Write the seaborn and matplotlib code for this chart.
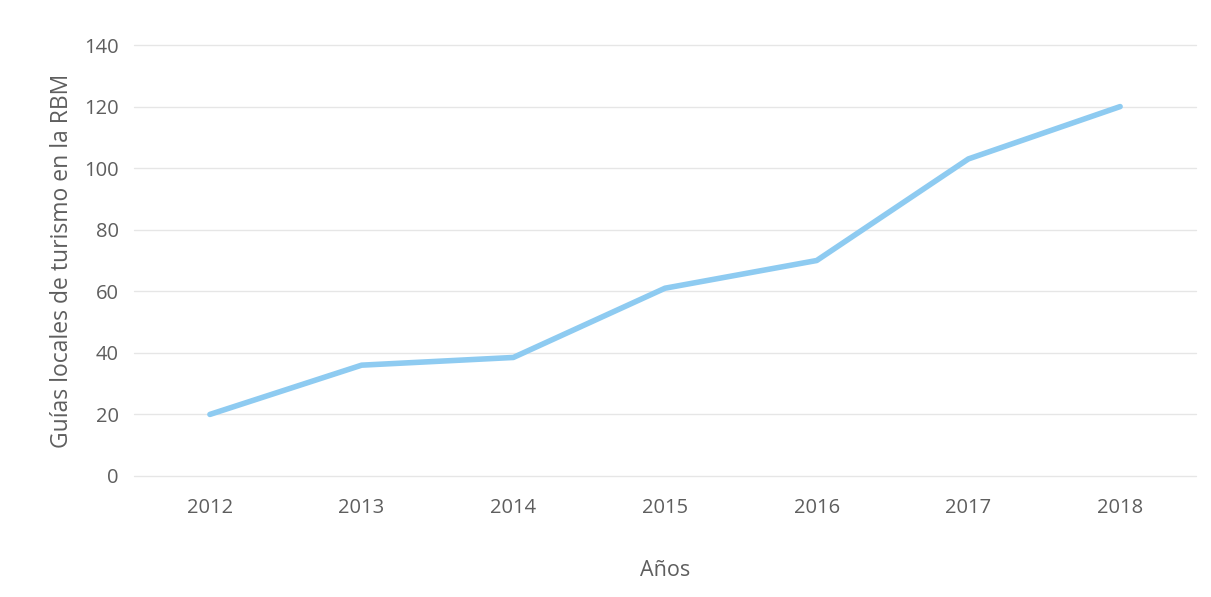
import matplotlib
matplotlib.use("Agg")
import matplotlib.pyplot as plt
import seaborn as sns
import pandas as pd

years = [2012, 2013, 2014, 2015, 2016, 2017, 2018]
guides = [20, 36, 38.5, 61, 70, 103, 120]
y_ticks = [0, 20, 40, 60, 80, 100, 120, 140]

df = pd.DataFrame({"year": years, "guides": guides})

sns.set_theme(style="white")
plt.rcParams["font.family"] = ["Open Sans", "DejaVu Sans"]

fig = plt.figure(figsize=(12.11, 5.97), dpi=100)
ax = fig.add_axes([0.1107, 0.2027, 0.8769, 0.7219])

sns.lineplot(data=df, x="year", y="guides", ax=ax, color="#8ecbf1",
             linewidth=4.0, solid_capstyle="round", solid_joinstyle="round")

ax.set_xlim(2011.5, 2018.5)
ax.set_ylim(0, 140)
ax.set_yticks(y_ticks)
ax.set_xticks(years)
ax.set_xticklabels([str(y) for y in years])
ax.yaxis.grid(True, color="#e6e6e6", linewidth=1.0)
ax.xaxis.grid(False)
for gl in ax.get_ygridlines():
    gl.set_clip_on(False)
for s in ax.spines.values():
    s.set_visible(False)
ax.tick_params(axis="both", length=0, labelsize=14.5, labelcolor="#5e5e5e")
ax.tick_params(axis="x", pad=16)
ax.tick_params(axis="y", pad=11)

ax.set_xlabel("Años", fontsize=15.5, color="#5e5e5e", labelpad=30)
ax.set_ylabel("Guías locales de turismo en la RBM", fontsize=16.5,
              color="#5e5e5e", labelpad=7)

fig.savefig("out.png", dpi=100, facecolor="white")
